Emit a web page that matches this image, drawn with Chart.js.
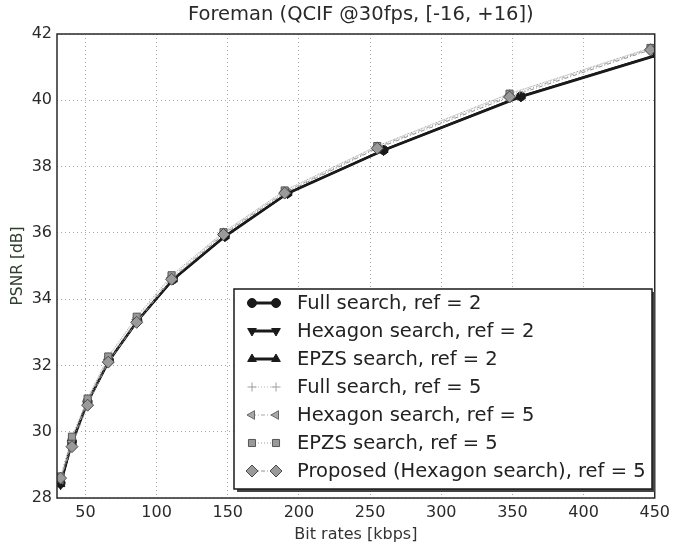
<!DOCTYPE html>
<html>
<head>
<meta charset="utf-8">
<script src="https://cdn.jsdelivr.net/npm/chart.js@4.4.1/dist/chart.umd.min.js"></script>
<style>
    html, body { margin: 0; padding: 0; background: #fff; }
    #wrap { width: 675px; height: 544px; }
</style>
</head>
<body>
<div id="wrap"><canvas id="psnrChart" width="675" height="544"></canvas></div>
<script>
// Bit rates (kbps) and PSNR (dB)
const xRef2 = [32.5, 40.5, 51.5, 66.5, 86.5, 111.5, 148, 192, 259.5, 356, 452];
const xRef5 = [32.5, 40.5, 51.5, 66, 86, 110.5, 147, 190, 255, 348, 447];

const yFullRef2 = [28.45, 29.7, 30.9, 32.15, 33.35, 34.6, 35.9, 37.2, 38.5, 40.12, 41.38];
const yHexRef2 = [28.4, 29.65, 30.87, 32.12, 33.33, 34.58, 35.88, 37.18, 38.48, 40.1, 41.35];
const yEpzsRef2 = [28.42, 29.68, 30.9, 32.15, 33.35, 34.6, 35.9, 37.2, 38.5, 40.12, 41.37];
const yFullRef5 = [28.6, 29.8, 31.0, 32.25, 33.45, 34.7, 36.02, 37.27, 38.62, 40.2, 41.58];
const yHexRef5 = [28.55, 29.7, 30.92, 32.18, 33.38, 34.65, 35.98, 37.23, 38.58, 40.15, 41.55];
const yEpzsRef5 = [28.65, 29.85, 31.0, 32.27, 33.47, 34.72, 36.02, 37.28, 38.62, 40.2, 41.58];
const yProposed = [28.6, 29.55, 30.8, 32.1, 33.3, 34.6, 35.95, 37.2, 38.55, 40.1, 41.52];

const seriesLabels = [
    'Full search, ref = 2',
    'Hexagon search, ref = 2',
    'EPZS search, ref = 2',
    'Full search, ref = 5',
    'Hexagon search, ref = 5',
    'EPZS search, ref = 5',
    'Proposed (Hexagon search), ref = 5'
];

const xTickValues = [50, 100, 150, 200, 250, 300, 350, 400, 450];
const yTickValues = [28, 30, 32, 34, 36, 38, 40, 42];

const chartTitle = 'Foreman (QCIF @30fps, [-16, +16])';

const FONT = "'DejaVu Sans', sans-serif";

function toPoints(xs, ys) {
    return xs.map((x, i) => ({ x: x, y: ys[i] }));
}

// line + marker styles, roughly matching the matplotlib figure
const styles = [
    { color: '#1a1a1a', width: 2, dash: [], point: 'circle', rot: 0, r: 4.5, fill: '#1a1a1a', edge: '#1a1a1a' },
    { color: '#1a1a1a', width: 2, dash: [], point: 'triangle', rot: 180, r: 5, fill: '#1a1a1a', edge: '#1a1a1a' },
    { color: '#1a1a1a', width: 2, dash: [], point: 'triangle', rot: 0, r: 5, fill: '#1a1a1a', edge: '#1a1a1a' },
    { color: '#b8b8b8', width: 1, dash: [1, 2], point: 'cross', rot: 0, r: 4.5, fill: '#b0b0b0', edge: '#a0a0a0' },
    { color: '#a8a8a8', width: 1, dash: [4, 2, 1, 2], point: 'triangle', rot: -90, r: 5, fill: '#a8a8a8', edge: '#666' },
    { color: '#999', width: 1, dash: [1, 2], point: 'rect', rot: 0, r: 5, fill: '#999', edge: '#555' },
    { color: '#909090', width: 1, dash: [4, 2, 1, 2], point: 'rectRot', rot: 0, r: 6, fill: '#9a9a9a', edge: '#4a4a4a' }
];

const seriesData = [
    toPoints(xRef2, yFullRef2),
    toPoints(xRef2, yHexRef2),
    toPoints(xRef2, yEpzsRef2),
    toPoints(xRef5, yFullRef5),
    toPoints(xRef5, yHexRef5),
    toPoints(xRef5, yEpzsRef5),
    toPoints(xRef5, yProposed)
];

const datasets = seriesData.map((pts, i) => {
    const s = styles[i];
    return {
        label: seriesLabels[i],
        data: pts,
        borderColor: s.color,
        borderWidth: s.width,
        borderDash: s.dash,
        pointStyle: s.point,
        rotation: s.rot,
        pointRadius: s.r,
        pointBackgroundColor: s.fill,
        pointBorderColor: s.edge,
        pointBorderWidth: 1,
        tension: 0,
        fill: false,
        clip: 0,
        order: seriesData.length - i
    };
});

// solid frame round the plot area, plus the title centred over it
const framePlugin = {
    id: 'frame',
    afterDatasetsDraw(chart) {
        const { ctx, chartArea: a } = chart;
        ctx.save();
        ctx.strokeStyle = '#2a2a2a';
        ctx.lineWidth = 1.5;
        ctx.strokeRect(a.left, a.top, a.right - a.left, a.bottom - a.top);

        ctx.fillStyle = '#2a2a2a';
        ctx.font = '19.5px ' + FONT;
        ctx.textAlign = 'center';
        ctx.textBaseline = 'middle';
        ctx.fillText(chartTitle, (a.left + a.right) / 2 + 5, 15);
        ctx.restore();
    }
};

// matplotlib style legend: short line with two markers, box with shadow
const legendPlugin = {
    id: 'mplLegend',
    afterDraw(chart) {
        const ctx = chart.ctx;
        const box = { x: 234, y: 289, w: 418, h: 200 };
        ctx.save();
        ctx.fillStyle = '#444';
        ctx.fillRect(box.x + 3, box.y + 3, box.w, box.h);
        ctx.fillStyle = '#fff';
        ctx.fillRect(box.x, box.y, box.w, box.h);
        ctx.strokeStyle = '#1a1a1a';
        ctx.lineWidth = 1.5;
        ctx.strokeRect(box.x, box.y, box.w, box.h);

        ctx.font = '19.5px ' + FONT;
        ctx.textBaseline = 'middle';
        chart.data.datasets.forEach((ds, i) => {
            const cy = 303 + i * 28;
            const x1 = 252, x2 = 276;
            ctx.setLineDash(ds.borderDash);
            ctx.strokeStyle = ds.borderColor;
            ctx.lineWidth = ds.borderWidth + (i < 3 ? 1 : 0);
            ctx.beginPath();
            ctx.moveTo(x1, cy);
            ctx.lineTo(x2, cy);
            ctx.stroke();
            ctx.setLineDash([]);
            [x1, x2].forEach(px => {
                ctx.fillStyle = ds.pointBackgroundColor;
                ctx.strokeStyle = ds.pointBorderColor;
                ctx.lineWidth = 1;
                Chart.helpers.drawPoint(ctx, {
                    pointStyle: ds.pointStyle,
                    rotation: ds.rotation,
                    radius: ds.pointRadius,
                    borderWidth: 1
                }, px, cy);
            });
            ctx.fillStyle = '#222';
            ctx.fillText(ds.label, 297, cy + 1);
        });
        ctx.restore();
    }
};

new Chart(document.getElementById('psnrChart'), {
    type: 'line',
    data: { datasets: datasets },
    plugins: [framePlugin, legendPlugin],
    options: {
        responsive: false,
        animation: false,
        layout: { padding: { left: 0, right: 17, top: 34, bottom: 0 } },
        plugins: {
            legend: { display: false },
            tooltip: { enabled: false },
            title: { display: false }
        },
        scales: {
            x: {
                type: 'linear',
                min: 30,
                max: 450,
                afterBuildTicks: s => { s.ticks = xTickValues.map(v => ({ value: v })); },
                afterFit: s => { s.height = 46; },
                grid: { color: '#a8a8a8', lineWidth: 1, drawTicks: false },
                border: { display: false, dash: [1, 3] },
                ticks: {
                    color: '#2a2a2a',
                    padding: 5,
                    maxRotation: 0,
                    font: { family: FONT, size: 16 }
                },
                title: {
                    display: true,
                    text: 'Bit rates [kbps]',
                    color: '#333',
                    font: { family: FONT, size: 16 },
                    padding: { top: 0, bottom: 0 }
                }
            },
            y: {
                type: 'linear',
                min: 28,
                max: 42,
                afterBuildTicks: s => { s.ticks = yTickValues.map(v => ({ value: v })); },
                afterFit: s => { s.width = 57; },
                grid: { color: '#a8a8a8', lineWidth: 1, drawTicks: false },
                border: { display: false, dash: [1, 3] },
                ticks: {
                    color: '#2a2a2a',
                    padding: 5,
                    font: { family: FONT, size: 16 }
                },
                title: {
                    display: true,
                    text: 'PSNR [dB]',
                    color: '#2f3f2f',
                    font: { family: FONT, size: 15.5 },
                    padding: { top: 9, bottom: 0 }
                }
            }
        }
    }
});
</script>
</body>
</html>
